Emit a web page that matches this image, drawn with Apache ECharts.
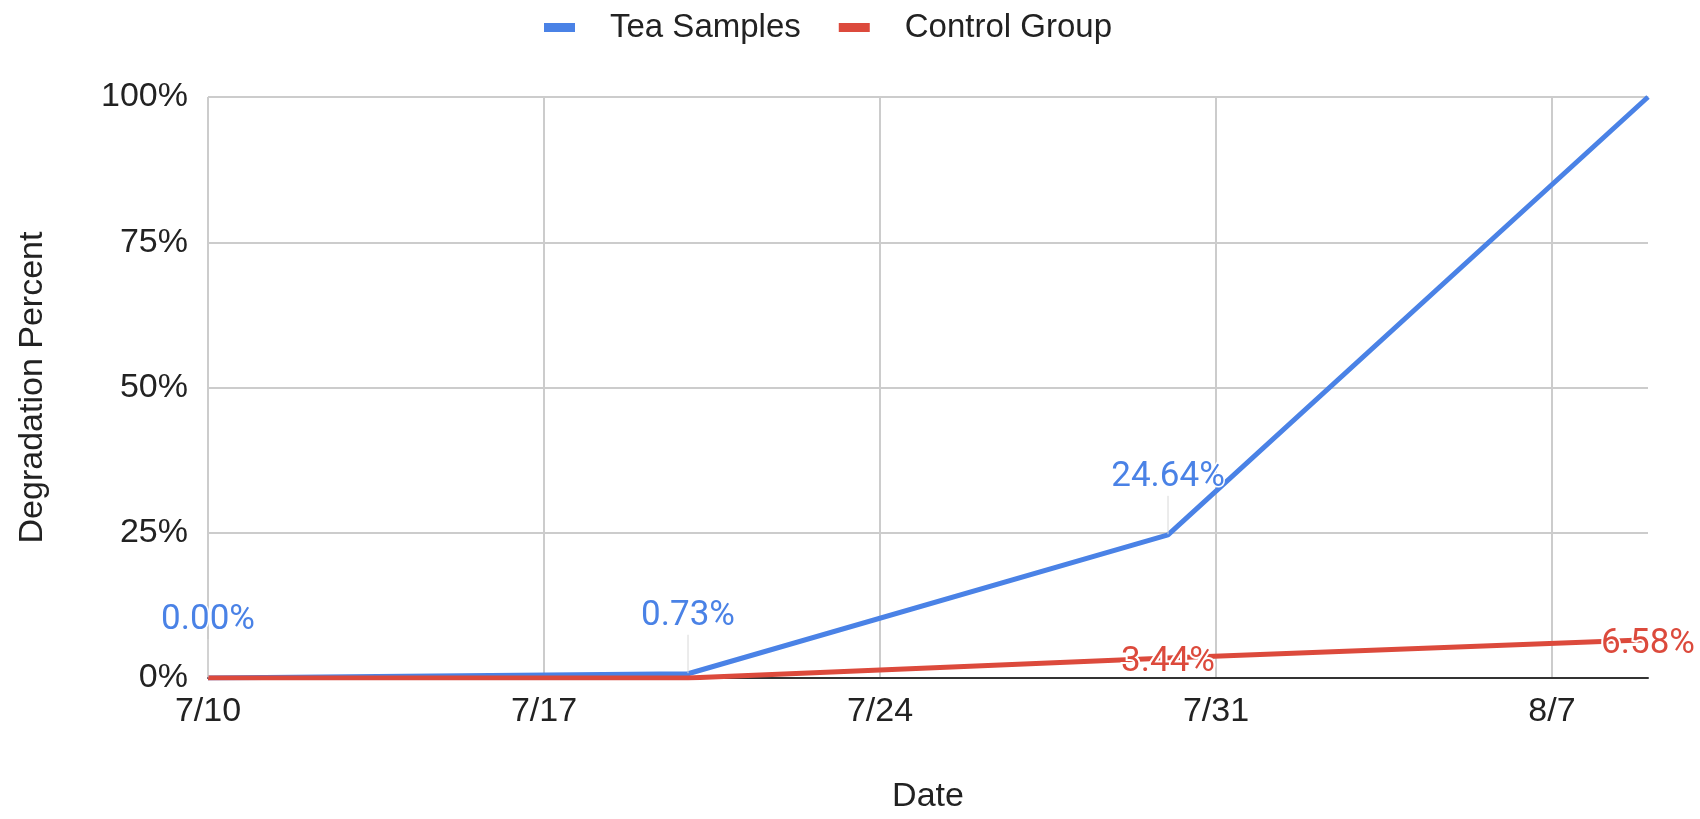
<!DOCTYPE html>
<html>
<head>
<meta charset="utf-8">
<title>Degradation Percent</title>
<script src="https://cdn.jsdelivr.net/npm/echarts@6/dist/echarts.min.js"></script>
<style>
  html, body { margin: 0; padding: 0; background: #fff; }
  #chart { width: 1700px; height: 819px; }
</style>
</head>
<body>
<div id="chart"></div>
<script>
// Sample dates and measured degradation (percent)
const dates = ['2023-07-10', '2023-07-20', '2023-07-30', '2023-08-09'];
const teaSamples = [0, 0.73, 24.64, 100];
const controlGroup = [0, 0, 3.44, 6.58];
// Which points carry a value label
const teaLabelShown = [true, true, true, false];
const controlLabelShown = [false, false, true, true];
// Axis ranges
const yTicks = [0, 25, 50, 75, 100];
const xSpanDays = 30;
const xStepDays = 7;

const DAY = 86400000;
const start = Date.parse(dates[0] + 'T00:00:00Z');
const dayOffset = d => (Date.parse(d + 'T00:00:00Z') - start) / DAY;

const BLUE = '#4a82e6';
const RED = '#dc4a3c';
const AXIS_FONT = '"Liberation Sans", Arial, sans-serif';
const LABEL_FONT = 'Roboto, "Liberation Sans", sans-serif';

function fmtDate(v) {
  if (v % xStepDays !== 0) return '';
  const dt = new Date(start + v * DAY);
  return (dt.getUTCMonth() + 1) + '/' + dt.getUTCDate();
}

function buildData(values, shown, labelCfg) {
  return values.map((v, i) => ({
    value: [dayOffset(dates[i]), v],
    label: Object.assign({ show: shown[i] }, labelCfg)
  }));
}

const labelFormatter = p => p.value[1].toFixed(2) + '%';

const chart = echarts.init(document.getElementById('chart'), null, { renderer: 'canvas' });
chart.setOption({
  animation: false,
  backgroundColor: '#ffffff',
  legend: {
    left: 539,
    top: 6,
    itemWidth: 31,
    itemHeight: 9,
    itemGap: 38,
    icon: 'rect',
    textStyle: {
      fontFamily: AXIS_FONT,
      fontSize: 33,
      color: '#222',
      padding: [0, 0, 0, 30]
    },
    data: ['Tea Samples', 'Control Group']
  },
  grid: { left: 208, right: 52, top: 97, bottom: 136, containLabel: false },
  xAxis: {
    type: 'value',
    min: 0,
    max: xSpanDays,
    interval: xStepDays,
    name: 'Date',
    nameLocation: 'middle',
    nameGap: 102,
    nameTextStyle: { fontFamily: AXIS_FONT, fontSize: 34, color: '#222' },
    axisLine: { show: true, lineStyle: { color: '#333', width: 2 } },
    axisTick: { show: false },
    axisLabel: {
      formatter: fmtDate,
      fontFamily: AXIS_FONT,
      fontSize: 34,
      color: '#222',
      margin: 17,
      showMaxLabel: false
    },
    splitLine: { show: true, showMinLine: true, showMaxLine: false, lineStyle: { color: '#cccccc', width: 2 } }
  },
  yAxis: {
    type: 'value',
    min: yTicks[0],
    max: yTicks[yTicks.length - 1],
    interval: yTicks[1] - yTicks[0],
    name: 'Degradation Percent',
    nameLocation: 'middle',
    nameGap: 158,
    nameRotate: 90,
    nameTextStyle: { fontFamily: AXIS_FONT, fontSize: 34, color: '#222' },
    axisLine: { show: false },
    axisTick: { show: false },
    axisLabel: {
      formatter: v => v + '%',
      fontFamily: AXIS_FONT,
      fontSize: 34,
      color: '#222',
      margin: 20
    },
    splitLine: { show: true, lineStyle: { color: '#cccccc', width: 2 } }
  },
  series: [
    {
      name: 'Tea Samples',
      type: 'line',
      color: BLUE,
      symbol: 'circle',
      symbolSize: 1,
      showSymbol: true,
      lineStyle: { width: 5, color: BLUE },
      itemStyle: { color: BLUE },
      emphasis: { disabled: true },
      data: buildData(teaSamples, teaLabelShown, {
        position: 'top',
        distance: 4,
        formatter: labelFormatter,
        fontFamily: LABEL_FONT,
        fontSize: 35,
        color: BLUE,
        textBorderColor: '#fff',
        textBorderWidth: 3
      }),
      labelLayout: { dy: -36 },
      labelLine: { show: true, length2: 0, lineStyle: { color: '#d8d8d8', width: 1 } }
    },
    {
      name: 'Control Group',
      type: 'line',
      color: RED,
      symbol: 'circle',
      symbolSize: 1,
      showSymbol: true,
      lineStyle: { width: 5, color: RED },
      itemStyle: { color: RED },
      emphasis: { disabled: true },
      data: buildData(controlGroup, controlLabelShown, {
        position: 'inside',
        offset: [0, 4],
        formatter: labelFormatter,
        fontFamily: LABEL_FONT,
        fontSize: 35,
        color: RED,
        textBorderColor: '#fff',
        textBorderWidth: 4
      })
    }
  ]
});
</script>
</body>
</html>
